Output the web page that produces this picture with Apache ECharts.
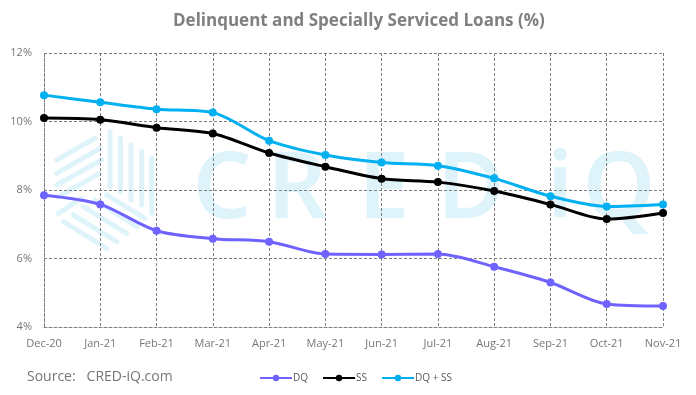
<!DOCTYPE html>
<html>
<head>
<meta charset="utf-8">
<script src="https://cdn.jsdelivr.net/npm/echarts@6/dist/echarts.min.js"></script>
<style>
html,body{margin:0;padding:0;background:#fff;}
#chart{width:696px;height:395px;}
</style>
</head>
<body>
<div id="chart"></div>
<script>
const categories = ['Dec-20','Jan-21','Feb-21','Mar-21','Apr-21','May-21','Jun-21','Jul-21','Aug-21','Sep-21','Oct-21','Nov-21'];
const dq   = [7.85, 7.58, 6.81, 6.58, 6.49, 6.13, 6.12, 6.13, 5.76, 5.30, 4.67, 4.61];
const ss   = [10.10, 10.05, 9.82, 9.65, 9.08, 8.68, 8.33, 8.23, 7.97, 7.58, 7.15, 7.33];
const dqss = [10.77, 10.56, 10.36, 10.26, 9.44, 9.02, 8.80, 8.71, 8.34, 7.82, 7.52, 7.58];
const yTicks = [4, 6, 8, 10, 12];
const seriesNames = ['DQ', 'SS', 'DQ + SS'];
const titleText = 'Delinquent and Specially Serviced Loans (%)';
const sourceText = 'Source:   CRED-iQ.com';
const watermarkLetters = ['C','R','E','D','i','Q'];

const WM = '#dff3fb';
const FONT = '"Open Sans", "DejaVu Sans", sans-serif';

// watermark decoration (logo stripes + letters)
const stripes = [
  [56.7,160,95,138.3],[56.7,173.3,100,148.3],[56.7,185,101.7,160],[58.3,196.7,100,173.3],[58.3,213.3,81.7,198.3],
  [110,131.7,110,186.7],[120.5,138.3,120.5,191.7],[131,145,131,200],[141.7,151.7,141.7,205],[151.7,158.3,151.7,213.3],
  [63.3,221.7,106.7,248.3],[73.3,215,116.7,241.7],[83.3,206.7,126.7,233.3],[95,200,136.7,226.7],[106.7,195,145,218.3]
];
const letterX = [222, 297, 384, 471, 560, 619];
const graphics = stripes.map(s => ({
  type: 'line', z: -1, silent: true,
  shape: {x1: s[0], y1: s[1], x2: s[2], y2: s[3]},
  style: {stroke: WM, lineWidth: 5, lineCap: 'round'}
}));
watermarkLetters.forEach((ch, i) => {
  graphics.push({
    type: 'text', z: -1, silent: true, x: letterX[i], y: 192,
    style: {text: ch, fill: WM, font: '600 92px "Noto Sans", sans-serif', textAlign: 'center', textVerticalAlign: 'middle'}
  });
});
graphics.push({
  type: 'text', x: 27, y: 377,
  style: {text: sourceText, fill: '#767676', font: '14px ' + FONT, textAlign: 'left', textVerticalAlign: 'middle'}
});

const colors = ['#6e63ff', '#000000', '#00b0f0'];
const dataSets = [dq, ss, dqss];

const chart = echarts.init(document.getElementById('chart'));
chart.setOption({
  animation: false,
  title: {
    text: titleText, left: 168, top: 8,
    textStyle: {fontFamily: FONT, fontSize: 17, fontWeight: 'bold', color: '#7f7f7f'}
  },
  graphic: graphics,
  legend: {
    data: seriesNames, left: 254, top: 368,
    itemWidth: 32, itemHeight: 8, itemGap: 14,
    textStyle: {fontFamily: FONT, fontSize: 10, color: '#595959', padding: [0,0,0,-4]}
  },
  grid: {left: 44, right: 33, top: 53, bottom: 68, containLabel: false},
  xAxis: {
    type: 'category', data: categories, boundaryGap: false,
    axisLine: {show: true, lineStyle: {color: '#7f7f7f', type: [3,2], width: 1}},
    axisTick: {show: false},
    axisLabel: {fontFamily: FONT, fontSize: 11, color: '#767676', margin: 11},
    splitLine: {show: true, lineStyle: {color: '#7f7f7f', type: [3,2], width: 1}}
  },
  yAxis: {
    type: 'value', min: 4, max: 12, interval: 2,
    axisLine: {show: true, lineStyle: {color: '#7f7f7f', type: [3,2], width: 1}},
    axisTick: {show: false},
    axisLabel: {fontFamily: FONT, fontSize: 11, color: '#767676', margin: 12,
      formatter: v => (yTicks.includes(v) ? v + '%' : '')},
    splitLine: {show: true, lineStyle: {color: '#7f7f7f', type: [3,2], width: 1}}
  },
  series: seriesNames.map((n, i) => ({
    name: n, type: 'line', data: dataSets[i], smooth: 0.3,
    symbol: 'circle', symbolSize: 8,
    itemStyle: {color: colors[i]},
    lineStyle: {color: colors[i], width: 3},
    z: 3 + i
  }))
});
</script>
</body>
</html>
